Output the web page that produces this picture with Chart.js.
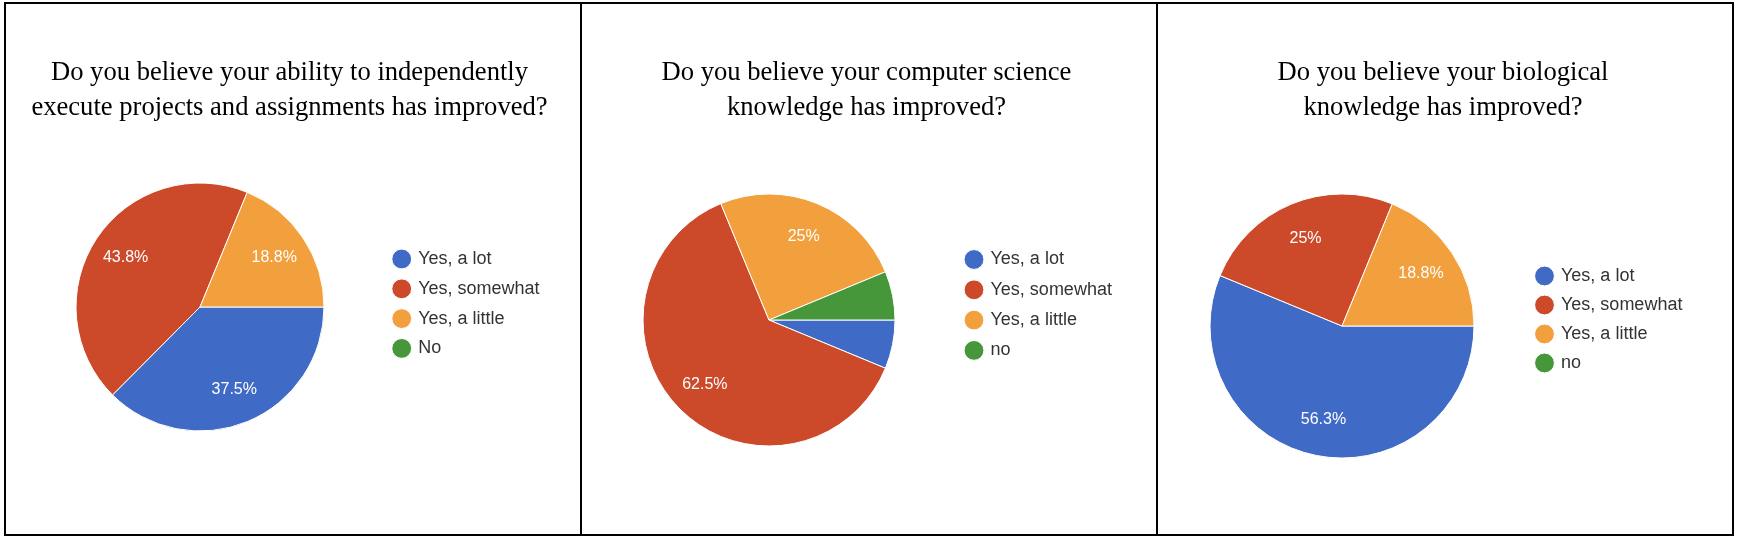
<!DOCTYPE html>
<html>
<head>
<meta charset="utf-8">
<script src="https://cdn.jsdelivr.net/npm/chart.js@4/dist/chart.umd.min.js"></script>
<style>
  body { margin: 0; background: #fff; }
  #frame {
    position: absolute; left: 4px; top: 2px;
    width: 1730px; height: 534px;
    box-sizing: border-box; border: 2px solid #000;
    display: flex;
  }
  .panel { flex: none; position: relative; width: 574px; height: 530px; }
  .panel + .panel { border-left: 2px solid #000; }
  .title {
    position: absolute; top: 50px; width: 574px;
    font: 26.6px/35px "Liberation Serif", "Times New Roman", serif;
    color: #000; text-align: center; white-space: nowrap;
  }
  canvas { display: block; }
</style>
</head>
<body>
<div id="frame">
  <div class="panel"><div class="title" id="t1" style="left:-3.5px"></div><canvas id="pie1" width="574" height="530"></canvas></div>
  <div class="panel"><div class="title" id="t2" style="left:-2.5px"></div><canvas id="pie2" width="574" height="530"></canvas></div>
  <div class="panel"><div class="title" id="t3" style="left:-2px"></div><canvas id="pie3" width="574" height="530"></canvas></div>
</div>
<script>
// answers and percentages
const answers1 = ['Yes, a lot', 'Yes, somewhat', 'Yes, a little', 'No'];
const answers23 = ['Yes, a lot', 'Yes, somewhat', 'Yes, a little', 'no'];
const independence = [37.5, 43.8, 18.8, 0];
const compSci = [6.25, 62.5, 25, 6.25];
const biology = [56.3, 25, 18.8, 0];

const title1 = ['Do you believe your ability to independently', 'execute projects and assignments has improved?'];
const title2 = ['Do you believe your computer science', 'knowledge has improved?'];
const title3 = ['Do you believe your biological', 'knowledge has improved?'];

const colors = ['#3f6ac6', '#cc4a29', '#f2a03d', '#46963a'];

const W = 574, H = 530;
const BOX = 15;
const SANS = '"Liberation Sans", Arial, sans-serif';

// percent labels inside the slices (small slices get none, like Google does)
const sliceLabels = {
  id: 'sliceLabels',
  afterDatasetsDraw(chart) {
    const ctx = chart.ctx;
    const values = chart.data.datasets[0].data;
    ctx.save();
    ctx.fillStyle = '#fff';
    ctx.font = '16px ' + SANS;
    ctx.textAlign = 'center';
    ctx.textBaseline = 'middle';
    chart.getDatasetMeta(0).data.forEach((arc, i) => {
      if (values[i] < 10) return;
      const p = arc.getProps(['x', 'y', 'startAngle', 'endAngle', 'outerRadius'], true);
      const mid = (p.startAngle + p.endAngle) / 2;
      const r = p.outerRadius * 0.72;
      ctx.fillText(values[i] + '%', p.x + Math.cos(mid) * r, p.y + Math.sin(mid) * r);
    });
    ctx.restore();
  }
};

function setTitle(id, lines) {
  const el = document.getElementById(id);
  lines.forEach((line, i) => {
    if (i) el.appendChild(document.createElement('br'));
    el.appendChild(document.createTextNode(line));
  });
}

// t: pie centre/radius and where the first legend dot sits (canvas px)
function makePie(id, labels, values, t) {
  const legendLeft = t.dotX - BOX / 2 - t.pad;
  const top = t.dotY - 9 - t.pad;
  const bottom = 2 * t.cy - top;
  const left = 2 * t.cx - legendLeft;

  const chart = new Chart(document.getElementById(id), {
    type: 'pie',
    data: {
      labels: labels,
      datasets: [{
        data: values,
        backgroundColor: colors,
        borderColor: '#fff',
        borderWidth: 1,
        radius: t.r,
        clip: false
      }]
    },
    options: {
      responsive: false,
      animation: false,
      rotation: 90,
      layout: { padding: { left: left, top: top, right: 0, bottom: H - bottom } },
      plugins: {
        title: { display: false },
        legend: {
          position: 'right',
          align: 'start',
          labels: {
            usePointStyle: true,
            pointStyle: 'circle',
            boxWidth: BOX,
            boxHeight: 14,
            padding: t.pad,
            color: '#333',
            font: { family: SANS, size: 18 }
          }
        },
        tooltip: { enabled: false }
      }
    },
    plugins: [sliceLabels]
  });

  // second pass: push the legend so its dots land where they should
  chart.options.layout.padding = { left: left, top: top, right: W - legendLeft - chart.legend.width, bottom: H - bottom };
  chart.update('none');
  return chart;
}

setTitle('t1', title1);
setTitle('t2', title2);
setTitle('t3', title3);

makePie('pie1', answers1, independence, { cx: 194, cy: 303, r: 124, dotX: 395.7, dotY: 255, pad: 11.8 });
makePie('pie2', answers23, compSci, { cx: 187, cy: 316, r: 126, dotX: 392, dotY: 255.5, pad: 12.3 });
makePie('pie3', answers23, biology, { cx: 182, cy: 322, r: 132, dotX: 386.5, dotY: 272, pad: 11 });
</script>
</body>
</html>
